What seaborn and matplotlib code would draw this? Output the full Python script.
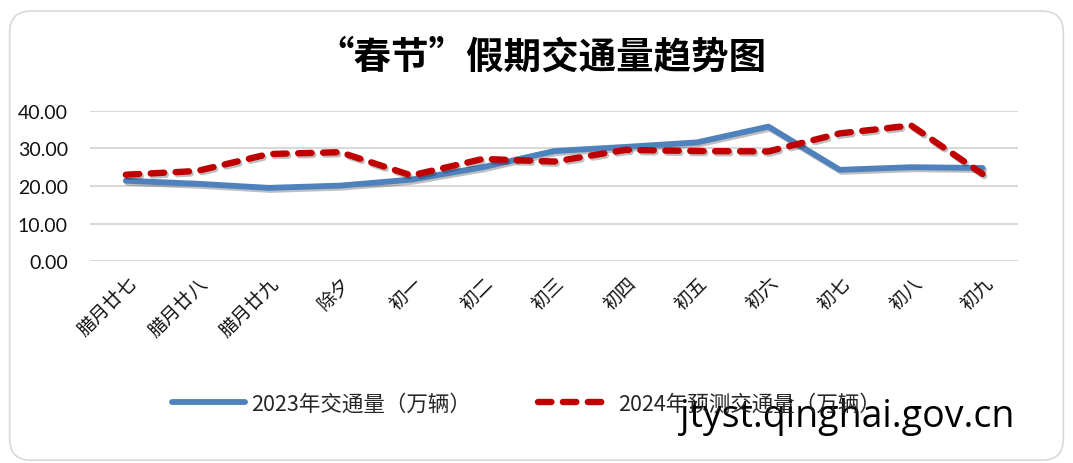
import numpy as np
import pandas as pd
import seaborn as sns
import matplotlib.pyplot as plt
import matplotlib.patheffects as pe
from matplotlib.patches import FancyBboxPatch

# data
days = ["腊月廿七", "腊月廿八", "腊月廿九", "除夕", "初一", "初二", "初三",
        "初四", "初五", "初六", "初七", "初八", "初九"]
traffic_2023 = [21.4, 20.6, 19.5, 20.1, 21.7, 25.0, 29.3, 30.4, 31.6, 35.8, 24.3, 25.0, 24.8]
forecast_2024 = [23.0, 24.0, 28.5, 29.0, 22.8, 27.2, 26.5, 29.6, 29.3, 29.2, 34.0, 36.1, 23.2]
yticks = [0, 10, 20, 30, 40]

sns.set_theme(style="white")
plt.rcParams['font.family'] = ['Noto Sans CJK SC', 'DejaVu Sans']

df = pd.DataFrame({"x": np.arange(len(days)),
                   "2023年交通量（万辆）": traffic_2023,
                   "2024年预测交通量（万辆）": forecast_2024})
long = df.melt(id_vars="x", var_name="series", value_name="v")

fig = plt.figure(figsize=(10.73, 4.64), dpi=100)
ax = fig.add_axes([0.084, 0.435, 0.865, 0.324])

# rounded frame around the chart
frame = FancyBboxPatch((0.009, 0.006), 0.982, 0.968, boxstyle="round,pad=0,rounding_size=0.02",
                       transform=fig.transFigure, facecolor="none", edgecolor="#d9d9d9",
                       linewidth=1.2, mutation_aspect=1073 / 464)
fig.patches.append(frame)

shadow = [pe.SimpleLineShadow(offset=(1.2, -1.5), alpha=0.25, shadow_color="black"), pe.Normal()]

sns.lineplot(data=long[long.series == "2023年交通量（万辆）"], x="x", y="v", ax=ax,
             color="#4f81bd", linewidth=4.2, solid_capstyle="round", label="2023年交通量（万辆）",
             path_effects=shadow)
sns.lineplot(data=long[long.series == "2024年预测交通量（万辆）"], x="x", y="v", ax=ax,
             color="#c00000", linewidth=4.6, dashes=(2.1, 1.8), dash_capstyle="round",
             label="2024年预测交通量（万辆）", path_effects=shadow)

ax.set_xlim(-0.5, len(days) - 0.5)
ax.set_ylim(0, 40)
ax.set_yticks(yticks)
ax.set_yticklabels([f"{t:.2f}" for t in yticks], fontsize=14, family=["Lato", "DejaVu Sans"])
ax.set_xticks(range(len(days)))
ax.set_xticklabels(days, rotation=45, ha="right", rotation_mode="anchor", fontsize=13.5)
ax.tick_params(axis="y", length=0, pad=16, colors="#111111")
ax.tick_params(axis="x", length=0, pad=8, colors="#111111")
ax.yaxis.grid(True, color="#d9d9d9", linewidth=1.5)
ax.set_axisbelow(True)
for s in ax.spines.values():
    s.set_visible(False)
ax.set_xlabel("")
ax.set_ylabel("")

handles, labels = ax.get_legend_handles_labels()
ax.get_legend().remove()
leg = fig.legend(handles, labels, loc="center left", bbox_to_anchor=(0.142, 0.128), ncol=2,
                 frameon=False, fontsize=15.5, handlelength=3.4, handletextpad=0.3,
                 columnspacing=3.1)
for line in leg.get_lines():
    line.set_path_effects([])

fig.suptitle("“春节”假期交通量趋势图", x=0.505, y=0.92, fontsize=27, fontweight="bold",
             color="black")
fig.text(0.634, 0.08, "jtyst.qinghai.gov.cn", fontsize=27, family=["Open Sans", "DejaVu Sans"],
         color="black", ha="left", va="baseline")

fig.savefig("out.png", dpi=100)
